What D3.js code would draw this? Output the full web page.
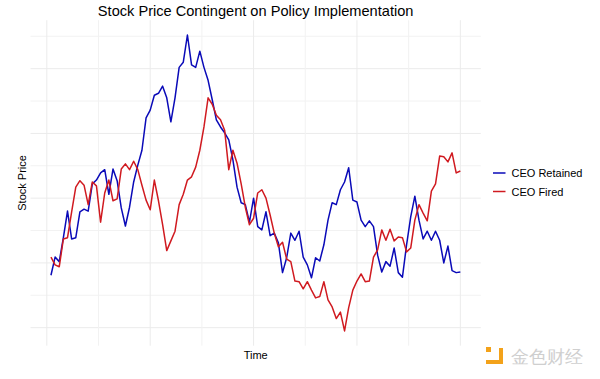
<!DOCTYPE html>
<html>
<head>
<meta charset="utf-8">
<script src="https://cdn.jsdelivr.net/npm/d3@7"></script>
<style>
  html, body { margin: 0; padding: 0; background: #ffffff; }
  svg { display: block; }
  text { font-family: "Liberation Sans", Arial, Helvetica, sans-serif; }
</style>
</head>
<body>
<svg id="chart" width="600" height="379"></svg>
<script>
// ---- data ----
const title = "Stock Price Contingent on Policy Implementation";
const xLabel = "Time";
const yLabel = "Stock Price";
const seriesNames = ["CEO Retained", "CEO Fired"];
const seriesColors = ["#0a0ab8", "#d01a20"];

const ceoRetained = [
  98.1, 100.9, 100.2, 103.9, 108.0, 103.7, 103.9, 107.9, 108.3, 108.0,
  112.2, 112.8, 113.9, 114.4, 110.6, 114.5, 112.7, 108.5, 105.7, 108.6,
  112.5, 115.1, 117.4, 122.4, 123.6, 125.9, 126.2, 127.3, 125.5, 121.8,
  125.5, 130.2, 131.0, 135.2, 130.6, 130.2, 132.7, 130.2, 128.2, 125.2,
  122.1, 121.0, 120.1, 119.0, 115.9, 111.7, 109.3, 109.0, 106.3, 110.0,
  105.6, 105.1, 107.9, 104.2, 104.6, 103.1, 98.5, 100.8, 104.6, 103.5,
  104.9, 100.9, 99.7, 97.7, 100.8, 100.3, 102.8, 106.6, 109.3, 109.0,
  111.3, 112.5, 114.7, 109.7, 109.4, 106.6, 105.6, 106.5, 105.6, 101.2,
  98.6, 100.2, 99.5, 102.3, 98.5, 97.8, 102.8, 107.1, 110.3, 106.6,
  103.7, 104.9, 103.5, 104.9, 103.5, 100.0, 102.6, 98.8, 98.5, 98.6
];

const ceoFired = [
  100.9, 99.7, 99.4, 103.7, 103.9, 107.9, 111.7, 112.7, 112.0, 109.0,
  112.5, 111.9, 106.3, 110.8, 112.8, 109.6, 109.9, 114.5, 115.3, 114.4,
  115.7, 114.4, 112.0, 109.7, 108.2, 112.8, 109.6, 105.9, 101.9, 103.4,
  104.9, 109.0, 110.6, 112.8, 113.3, 114.8, 117.4, 121.0, 125.5, 124.5,
  122.8, 122.1, 120.5, 114.4, 117.4, 115.4, 112.2, 108.6, 105.9, 106.9,
  110.8, 111.3, 110.0, 107.4, 104.6, 102.5, 103.2, 100.6, 100.2, 97.2,
  97.1, 96.0, 97.1, 95.8, 94.6, 94.8, 97.1, 94.3, 93.2, 91.4,
  92.4, 89.5, 93.1, 95.8, 97.2, 98.3, 97.1, 97.2, 100.9, 102.0,
  105.1, 103.5, 105.2, 103.4, 104.0, 103.9, 101.7, 102.3, 106.6, 109.0,
  107.7, 106.5, 111.1, 112.2, 116.5, 116.4, 115.6, 117.0, 113.9, 114.2
];

const xGridTicks = [0, 12.5, 25, 37.5, 50, 62.5, 75, 87.5, 100];
const yGridTicks = [90, 95, 100, 105, 110, 115, 120, 125, 130, 135];

// ---- layout ----
const svg = d3.select("#chart");
const panel = { left: 30.5, right: 480.8, top: 20.2, bottom: 345.7 };

const allSeries = [ceoRetained, ceoFired];
const n = ceoRetained.length;
const times = d3.range(1, n + 1);

const xExt = [1, n];
const xPad = (xExt[1] - xExt[0]) * 0.05;
const x = d3.scaleLinear()
  .domain([xExt[0] - xPad, xExt[1] + xPad])
  .range([panel.left, panel.right]);

const yExt = d3.extent(ceoRetained.concat(ceoFired));
const yPad = (yExt[1] - yExt[0]) * 0.05;
const y = d3.scaleLinear()
  .domain([yExt[0] - yPad, yExt[1] + yPad])
  .range([panel.bottom, panel.top]);

// grid
const grid = svg.append("g");
grid.selectAll("line.h").data(yGridTicks).join("line")
  .attr("x1", panel.left).attr("x2", panel.right)
  .attr("y1", d => y(d)).attr("y2", d => y(d))
  .attr("stroke", (d, i) => i % 2 === 0 ? "#ebebeb" : "#f2f2f2")
  .attr("stroke-width", 1);
grid.selectAll("line.v").data(xGridTicks).join("line")
  .attr("y1", panel.top).attr("y2", panel.bottom)
  .attr("x1", d => x(d)).attr("x2", d => x(d))
  .attr("stroke", (d, i) => i % 2 === 0 ? "#ebebeb" : "#f2f2f2")
  .attr("stroke-width", 1);

// lines
const line = d3.line()
  .x((d, i) => x(times[i]))
  .y(d => y(d));

svg.append("g").selectAll("path").data(allSeries).join("path")
  .attr("d", d => line(d))
  .attr("fill", "none")
  .attr("stroke", (d, i) => seriesColors[i])
  .attr("stroke-width", 1.5)
  .attr("stroke-linejoin", "round");

// title
svg.append("text")
  .attr("x", (panel.left + panel.right) / 2)
  .attr("y", 16)
  .attr("text-anchor", "middle")
  .attr("font-size", "14.6px")
  .attr("fill", "#000")
  .text(title);

// axis labels
svg.append("text")
  .attr("x", (panel.left + panel.right) / 2)
  .attr("y", 359)
  .attr("text-anchor", "middle")
  .attr("font-size", "11px")
  .attr("fill", "#000")
  .text(xLabel);

svg.append("text")
  .attr("transform", `translate(26,${(panel.top + panel.bottom) / 2}) rotate(-90)`)
  .attr("text-anchor", "middle")
  .attr("font-size", "11px")
  .attr("fill", "#000")
  .text(yLabel);

// legend
const legend = svg.append("g").attr("transform", "translate(493,173)");
const items = legend.selectAll("g").data(seriesNames).join("g")
  .attr("transform", (d, i) => `translate(0,${i * 18.5})`);
items.append("line")
  .attr("x1", 0).attr("x2", 12.5).attr("y1", 0).attr("y2", 0)
  .attr("stroke", (d, i) => seriesColors[i])
  .attr("stroke-width", 1.5);
items.append("text")
  .attr("x", 18.5).attr("y", 4)
  .attr("font-size", "11px")
  .attr("fill", "#000")
  .text(d => d);

// watermark
const wm = svg.append("g").attr("transform", "translate(486,347)");
wm.append("rect").attr("x", 0).attr("y", 0).attr("width", 5).attr("height", 5).attr("fill", "#f3a21a");
wm.append("path").attr("d", "M8,13 L13,13 L13,1 L17,1 L17,17 L0,17 L0,13 Z").attr("fill", "#f3a21a");
wm.append("text")
  .attr("x", 25).attr("y", 16)
  .attr("font-family", "'Noto Sans CJK SC', sans-serif")
  .attr("font-size", "18px")
  .attr("fill", "#cfcfcf")
  .text("金色财经");
</script>
</body>
</html>
